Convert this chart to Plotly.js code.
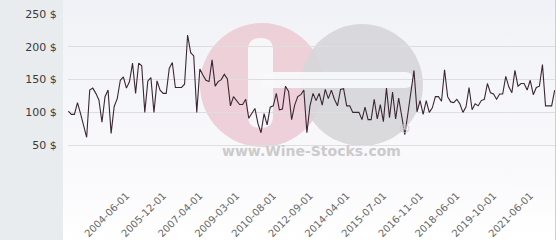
<!DOCTYPE html>
<html><head><meta charset="utf-8">
<script src="https://cdn.plot.ly/plotly-3.0.1.min.js"></script>
<style>html,body{margin:0;padding:0;background:#fff}#chart{width:560px;height:240px}</style>
</head><body><div id="chart"></div>
<script>
// ---- data ----
const prices = [
  102,97,97,115,98,81,62,134,137,129,119,85,124,134,68,109,121,149,154,137,
  147,175,129,175,171,100,148,153,100,148,134,129,129,167,176,138,138,138,143,218,
  191,186,100,166,157,149,147,180,140,147,150,158,151,110,124,118,112,112,120,91,
  98,106,83,69,98,81,108,110,129,104,105,140,132,89,111,124,127,134,69,110,
  129,118,129,111,135,121,134,120,110,135,136,110,110,100,100,100,89,108,89,89,
  120,90,112,86,137,92,131,90,122,92,66,98,128,164,101,118,97,118,100,107,
  124,124,117,165,124,116,115,120,113,100,108,138,104,113,110,118,120,144,130,128,
  120,128,128,155,139,130,164,140,144,144,134,149,127,138,140,173,110,110,110,134
];
const tickLabels = ['2004-06-01','2005-12-01','2007-04-01','2009-03-01','2010-08-01','2012-09-01',
  '2014-04-01','2015-07-01','2016-11-01','2018-06-01','2019-10-01','2021-06-01'];
const yTickValues = [0,50,100,150,200,250];
const yTickLabels = ['','50 $','100 $','150 $','200 $','250 $'];
const watermarkText = 'www.Wine-Stocks.com';

// ---- layout helpers ----
const W = 560, H = 240, ML = 68, MR = 5, MT = 14, MB = 62;
const firstTick = 19, tickStep = 12;
const xIdx = prices.map((_, i) => i);
const tickVals = tickLabels.map((_, k) => firstTick + tickStep * k);

function off(X, Y) { return (X - ML) + ',' + (MT - Y); }
function roundRect(x0, y0, x1, y1, r) {
  return 'M' + off(x0 + r, y0) + ' L' + off(x1 - r, y0) +
    ' Q' + off(x1, y0) + ' ' + off(x1, y0 + r) +
    ' L' + off(x1, y1 - r) + ' Q' + off(x1, y1) + ' ' + off(x1 - r, y1) +
    ' L' + off(x0 + r, y1) + ' Q' + off(x0, y1) + ' ' + off(x0, y1 - r) +
    ' L' + off(x0, y0 + r) + ' Q' + off(x0, y0) + ' ' + off(x0 + r, y0) + ' Z';
}
const anchor = {xref: 'paper', yref: 'paper', xsizemode: 'pixel', ysizemode: 'pixel', xanchor: 0, yanchor: 1, layer: 'below'};
function circle(cx, cy, r, color, op) {
  return Object.assign({type: 'circle', x0: cx - r - ML, x1: cx + r - ML, y0: MT - (cy + r), y1: MT - (cy - r),
    fillcolor: color, opacity: op, line: {width: 0}}, anchor);
}
function pathShape(p, color, op) {
  return Object.assign({type: 'path', path: p, fillcolor: color, opacity: op, line: {width: 0}}, anchor);
}
const bgWhite = '#f7f8fb';
const pw = W - ML - MR, ph = H - MT - MB;
function px2paperX(X) { return (X - ML) / pw; }
function px2paperY(Y) { return (H - MB - Y) / ph; }

const shapes = [
  {type: 'rect', xref: 'paper', yref: 'paper', x0: px2paperX(0), x1: px2paperX(63), y0: px2paperY(240), y1: px2paperY(0),
   fillcolor: '#e8ecef', line: {width: 0}, layer: 'below'},
  {type: 'line', xref: 'paper', yref: 'paper', x0: px2paperX(555.5), x1: px2paperX(555.5), y0: px2paperY(240), y1: px2paperY(0),
   line: {color: '#cfcfcf', width: 1}, layer: 'below'},
  circle(262, 85, 62, '#ebc9d2', 0.85),
  circle(362, 85, 61, '#d6d6d9', 0.9),
  pathShape(roundRect(248, 38, 273, 128, 12), bgWhite, 0.92),
  pathShape(roundRect(262, 72, 413, 88, 8), bgWhite, 0.92)
];

const grad = 'data:image/svg+xml;charset=utf-8,' + encodeURIComponent(
  '<svg xmlns="http://www.w3.org/2000/svg" width="100" height="100" preserveAspectRatio="none">' +
  '<defs><linearGradient id="g" x1="0" y1="0" x2="0" y2="1">' +
  '<stop offset="0" stop-color="#f1f2f7"/><stop offset="0.75" stop-color="#fafafc"/><stop offset="1" stop-color="#ffffff"/>' +
  '</linearGradient></defs><rect width="100" height="100" fill="url(#g)"/></svg>');

const data = [{
  type: 'scatter', mode: 'lines', x: xIdx, y: prices,
  line: {color: '#3b2733', width: 1.1}, hoverinfo: 'skip'
}];

const layout = {
  width: W, height: H,
  margin: {l: ML, r: MR, t: MT, b: MB, pad: 0},
  paper_bgcolor: '#ffffff', plot_bgcolor: 'rgba(0,0,0,0)',
  showlegend: false,
  xaxis: {
    range: [-0.1, prices.length - 1 + 0.1], tickmode: 'array', tickvals: tickVals, ticktext: tickLabels,
    tickangle: -45, showgrid: false, zeroline: false, showline: false,
    ticks: 'outside', ticklen: 7, tickcolor: 'rgba(0,0,0,0)',
    tickfont: {family: 'DejaVu Sans', size: 10, color: '#666666'}
  },
  yaxis: {
    range: [0, 250], tickmode: 'array', tickvals: yTickValues, ticktext: yTickLabels,
    showgrid: true, gridcolor: '#dedede', gridwidth: 1, zeroline: false, showline: false,
    ticks: 'outside', ticklen: 8, tickcolor: 'rgba(0,0,0,0)',
    tickfont: {family: 'DejaVu Sans', size: 11, color: '#3a3a3a'}
  },
  shapes: shapes,
  images: [{source: grad, xref: 'paper', yref: 'paper', x: px2paperX(63), y: px2paperY(0),
    sizex: (555 - 63) / pw, sizey: H / ph, sizing: 'stretch', xanchor: 'left', yanchor: 'top', layer: 'below'}],
  annotations: [
    {text: watermarkText, xref: 'paper', yref: 'paper', x: px2paperX(311), y: px2paperY(161),
     showarrow: false, font: {family: 'DejaVu Sans', size: 14, weight: 'bold', color: '#cbcbcb'}},
    {text: '®', xref: 'paper', yref: 'paper', x: px2paperX(413), y: px2paperY(138),
     showarrow: false, font: {family: 'DejaVu Sans', size: 13, color: '#c4c4c4'}}
  ]
};

Plotly.newPlot('chart', data, layout, {staticPlot: true, displayModeBar: false});
</script>
</body></html>
